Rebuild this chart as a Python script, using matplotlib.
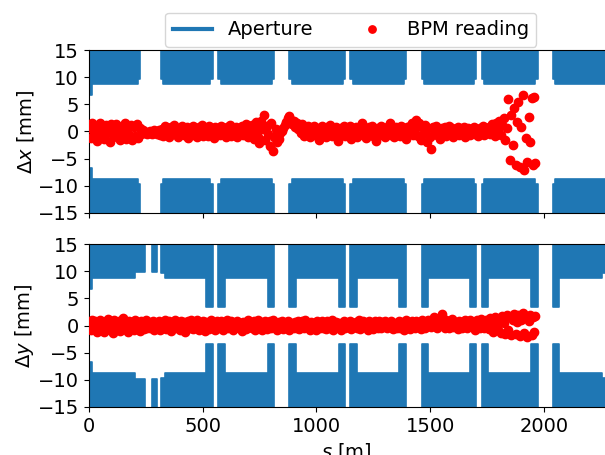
import matplotlib
matplotlib.use("Agg")
import matplotlib.pyplot as plt
from matplotlib.lines import Line2D
import numpy as np

# ---------------- data ----------------
# aperture elements: start [m], end [m], half aperture [mm]
apx_start = [0, 15, 215, 318, 328, 534, 569, 579, 804, 881, 891, 1116,
             1150, 1160, 1383, 1462, 1472, 1691, 1726, 1736, 1962, 2038, 2048]
apx_end = [15, 215, 225, 328, 534, 544, 579, 804, 814, 891, 1116, 1126,
           1160, 1383, 1393, 1472, 1691, 1701, 1736, 1962, 1972, 2048, 2300]
apx_half = [6.8, 8.7, 9.7, 9.7, 8.7, 9.7, 9.7, 8.7, 9.7, 9.7, 8.7, 9.7,
            9.7, 8.7, 9.7, 9.7, 8.7, 9.7, 9.7, 8.7, 9.7, 9.7, 8.7]

apy_start = [0, 15, 204, 276, 318, 335, 515, 569, 598, 789, 881, 910, 1100,
             1150, 1177, 1365, 1462, 1490, 1675, 1726, 1754, 1945, 2038, 2066, 2253]
apy_end = [15, 204, 248, 301, 335, 515, 544, 598, 789, 814, 910, 1100, 1126,
           1177, 1365, 1393, 1490, 1675, 1701, 1754, 1945, 1972, 2066, 2253, 2300]
apy_half = [6.8, 8.7, 9.9, 9.9, 9.7, 8.7, 3.4, 3.4, 8.7, 3.4, 3.4, 8.7, 3.4,
            3.4, 8.7, 3.4, 3.4, 8.7, 3.4, 3.4, 8.7, 3.4, 3.4, 8.7, 9.7]

# BPM positions [m]
s_bpm = [
    3, 9, 16, 22, 29, 35, 42, 48, 55, 61,
    68, 74, 81, 87, 94, 100, 107, 113, 120, 126,
    133, 139, 146, 152, 159, 165, 172, 178, 185, 191,
    198, 204, 211, 217, 224, 230, 237, 243, 250, 256,
    263, 269, 276, 282, 289, 295, 302, 308, 315, 321,
    328, 334, 341, 347, 354, 360, 367, 373, 380, 386,
    393, 399, 406, 412, 419, 425, 432, 438, 445, 451,
    458, 464, 471, 477, 484, 490, 497, 503, 510, 516,
    523, 529, 536, 542, 549, 555, 562, 568, 575, 581,
    588, 594, 601, 607, 614, 620, 627, 633, 640, 646,
    653, 659, 666, 672, 679, 685, 692, 698, 705, 711,
    718, 724, 731, 737, 744, 750, 757, 763, 770, 776,
    783, 789, 796, 802, 809, 815, 822, 828, 835, 841,
    848, 854, 861, 867, 874, 880, 887, 893, 900, 906,
    913, 919, 926, 932, 939, 945, 952, 958, 965, 971,
    978, 984, 991, 997, 1004, 1010, 1017, 1023, 1030, 1036,
    1043, 1049, 1056, 1062, 1069, 1075, 1082, 1088, 1095, 1101,
    1108, 1114, 1121, 1127, 1134, 1140, 1147, 1153, 1160, 1166,
    1173, 1179, 1186, 1192, 1199, 1205, 1212, 1218, 1225, 1231,
    1238, 1244, 1251, 1257, 1264, 1270, 1277, 1283, 1290, 1296,
    1303, 1309, 1316, 1322, 1329, 1335, 1342, 1348, 1355, 1361,
    1368, 1374, 1381, 1387, 1394, 1400, 1407, 1413, 1420, 1426,
    1433, 1439, 1446, 1452, 1459, 1465, 1472, 1478, 1485, 1491,
    1498, 1504, 1511, 1517, 1524, 1530, 1537, 1543, 1550, 1556,
    1563, 1569, 1576, 1582, 1589, 1595, 1602, 1608, 1615, 1621,
    1628, 1634, 1641, 1647, 1654, 1660, 1667, 1673, 1680, 1686,
    1693, 1699, 1706, 1712, 1719, 1725, 1732, 1738, 1745, 1751,
    1758, 1764, 1771, 1777, 1784, 1790, 1797, 1803, 1810, 1816,
    1823, 1829, 1836, 1842, 1849, 1855, 1862, 1868, 1875, 1881,
    1888, 1894, 1901, 1907, 1914, 1920, 1927, 1933, 1940, 1946,
    1951, 1956, 1960]

# horizontal BPM readings [mm]
x_bpm = [
    0.6, -1.2, 1.5, -0.4, 1.0, -1.8, 0.3, 1.6, -0.9, 0.8,
    -1.4, 1.2, -0.3, 0.9, -2.0, 1.4, -0.6, 0.5, 1.3, -1.1,
    0.4, -1.6, 1.1, -0.2, 1.5, -1.3, 0.7, -0.7, 1.2, -1.5,
    0.9, -0.8, 1.4, -1.2, 0.6, -0.5, 0.2, -0.3, -0.1, -0.4,
    -0.2, 0.1, -0.5, -0.3, 0.2, -0.1, -0.4, 0.3, -0.6, 0.5,
    -0.8, 1.0, -0.3, 0.6, -1.1, 0.8, -0.5, 1.2, -0.2, 0.4,
    -1.0, 0.7, -0.4, 1.1, -0.7, 0.3, 0.9, -1.2, 0.5, -0.2,
    1.0, -0.6, 0.4, -1.0, 0.8, -0.3, 1.2, -0.8, 0.2, 0.6,
    -0.9, 1.1, -0.4, 0.5, -1.2, 0.9, -0.1, 0.7, -0.7, 1.0,
    -0.5, 0.3, -1.0, 0.8, -0.3, 1.2, -0.8, 0.4, -0.4, 0.9,
    -1.1, 0.6, -0.2, 1.0, -0.7, 0.4, 1.3, -1.0, 0.2, -0.5,
    1.2, -1.3, 0.5, 1.8, -1.0, -2.2, 2.0, 0.4, 3.0, -1.6,
    1.0, -0.5, -2.6, 1.6, -3.6, -1.0, 0.5, -2.0, -1.3, -0.3,
    0.0, 0.6, 1.2, 1.8, 2.4, 2.8, 2.2, 1.4, 2.0, 0.8,
    1.5, 0.4, 1.0, -0.3, 1.3, -0.8, 0.6, -0.2, 1.0, -1.0,
    0.3, -0.7, 1.1, -0.4, 0.7, -1.5, 0.2, 1.0, -0.6, 0.5,
    -1.1, 0.8, -0.2, 1.2, -0.8, 0.4, -0.5, 0.9, -1.7, 0.3,
    0.7, -0.4, 1.1, -0.9, 0.2, -0.6, 1.0, -1.4, 0.5, -0.2,
    0.9, -1.0, 0.4, -0.3, 1.6, -0.7, 0.6, -1.2, 0.1, 0.8,
    -0.5, 1.0, -0.9, 0.3, -1.8, 0.7, -0.2, 1.1, -0.6, 0.4,
    -1.0, 0.8, -0.3, 1.6, -0.7, 0.2, -1.1, 0.9, -0.4, 0.6,
    -0.9, 1.1, -0.2, 0.5, -1.3, 0.8, -0.5, 1.0, 1.6, -0.6,
    0.4, 2.2, -0.8, 1.5, -1.5, 0.9, -0.3, 1.2, -2.0, 0.6,
    -1.0, -3.2, 0.9, -0.4, 1.1, -0.7, 0.5, -1.3, 0.7, -0.2,
    0.8, -0.9, 0.3, 1.0, -0.5, 0.6, -1.1, 0.4, -0.2, 0.9,
    -0.7, 0.5, -0.3, 0.9, -1.0, 0.2, 0.7, -0.6, 0.4, -0.3,
    0.8, -0.5, 0.3, -0.9, 0.6, -0.2, 1.0, -0.6, 0.4, 0.0,
    0.9, -0.4, 1.3, 0.2, -0.8, 1.6, 0.4, 2.0, -0.6, 1.2,
    2.4, -1.5, 0.6, 6.0, -5.2, 3.0, -2.4, 4.4, -6.2, 1.8,
    5.5, -6.5, 0.8, 6.7, -7.0, -1.2, -5.6, 2.6, -2.0, 6.1,
    -6.1, 6.4, -5.8]

# vertical BPM readings [mm]
y_bpm = [
    0.5, -0.9, 1.1, -0.4, 0.8, -1.2, 0.3, 1.0, -0.6, 0.4,
    -1.1, 0.9, -0.3, 1.2, -0.8, 0.5, -1.3, 1.0, 0.1, -0.5,
    0.8, -1.0, 0.4, 1.3, -0.6, 0.3, -1.1, 0.9, -0.4, 0.6,
    -0.8, 1.1, -0.3, 0.5, -1.0, 0.8, 0.1, -0.6, 1.0, -0.4,
    0.6, -0.5, 0.3, 0.9, -0.8, 0.4, -0.3, 0.8, -0.9, 0.5,
    -0.4, 1.0, -0.6, 0.3, 0.8, -1.0, 0.5, -0.1, 1.1, -0.5,
    0.4, -0.8, 0.9, -0.3, 0.6, -1.1, 0.3, 0.8, -0.5, 1.0,
    -0.6, 0.5, -0.1, 1.1, -0.8, 0.4, -0.4, 0.9, -1.0, 0.6,
    0.3, -0.6, 1.0, -0.3, 0.5, -0.9, 0.8, 0.0, -0.5, 0.9,
    -0.8, 0.6, -0.1, 1.0, -0.5, 0.3, 0.8, -0.9, 0.4, -0.3,
    0.9, -0.4, 0.5, -1.0, 0.6, 0.1, -0.6, 1.0, -0.3, 0.4,
    -0.5, 0.8, -0.9, 0.3, 1.1, -0.4, 0.6, -0.8, 0.4, 0.9,
    -0.6, 0.3, 0.8, -0.5, 1.0, -0.1, 0.5, -0.9, 0.6, -0.3,
    0.8, -0.6, 0.4, -0.3, 0.9, -0.8, 0.5, 0.1, -0.5, 0.6,
    -0.4, 0.9, -0.6, 0.3, 0.8, -0.5, 1.0, -0.3, 0.5, -0.8,
    0.6, -0.3, 0.4, -0.9, 0.8, 0.1, -0.5, 0.9, -0.4, 0.3,
    -0.6, 0.8, 0.0, -0.4, 1.0, -0.8, 0.4, 0.6, -0.3, 0.5,
    -0.8, 0.3, 0.9, -0.5, 0.4, -0.1, 0.8, -0.6, 0.5, 0.1,
    0.6, -0.4, 1.0, -0.6, 0.3, 0.8, -0.3, 0.5, -0.8, 0.9,
    -0.3, 0.5, -0.6, 0.9, 0.1, -0.5, 0.8, -0.4, 0.6, 0.0,
    0.8, -0.5, 0.4, -0.1, 0.9, -0.6, 0.5, 0.3, -0.4, 0.8,
    -0.5, 0.6, 0.1, -0.8, 1.0, -0.3, 0.5, -0.6, 0.9, 0.3,
    -0.4, 0.8, -0.1, 0.5, -0.6, 1.0, 0.3, -0.5, 0.8, 1.1,
    0.4, -0.3, 0.9, 1.5, 0.5, -0.4, 1.1, 0.6, 2.1, 0.3,
    -0.4, 1.0, 0.4, -0.5, 0.8, 1.2, -0.3, 0.6, 0.1, -0.6,
    0.9, 0.3, -0.5, 0.8, 1.1, -0.4, 0.5, 1.0, -0.1, 0.6,
    0.4, -0.8, 1.0, 0.3, -0.5, 1.2, 0.6, -0.4, 1.1, 0.1,
    -0.6, 1.3, 0.5, -1.1, 1.6, 0.3, -0.8, 1.2, -1.3, 1.7,
    0.4, -1.6, 1.9, -0.9, 1.5, -1.8, 1.0, 2.2, -1.5, 0.6,
    2.0, -1.9, 1.1, 2.3, -1.3, 1.7, -2.1, 0.8, 1.9, -1.7,
    1.5, -1.1, 1.8]

y_ticks = [-15, -10, -5, 0, 5, 10, 15]
x_ticks = [0, 500, 1000, 1500, 2000]
YLIM = 15
XMAX = 2268

# ---------------- plot ----------------
plt.rcParams['font.family'] = ['DejaVu Sans']
plt.rcParams['font.size'] = 14

fig = plt.figure(figsize=(6.05, 4.55), dpi=100)
ax1 = fig.add_axes([0.1466, 0.532, 0.8534, 0.358])
ax2 = fig.add_axes([0.1466, 0.1055, 0.8534, 0.358], sharex=ax1)

blue = '#1f77b4'
MS = 6.0


def draw_aperture(ax, start, end, half):
    start = np.asarray(start, float)
    end = np.asarray(end, float)
    half = np.asarray(half, float)
    width = end - start
    big = 3 * YLIM
    kw = dict(align='edge', color=blue, edgecolor=blue, linewidth=1.2,
              joinstyle='round', zorder=1)
    ax.bar(start, big - half, width=width, bottom=half, **kw)
    ax.bar(start, big - half, width=width, bottom=-big, **kw)


draw_aperture(ax1, apx_start, apx_end, apx_half)
draw_aperture(ax2, apy_start, apy_end, apy_half)

ax1.plot(s_bpm, x_bpm, 'o', color='red', ms=MS, zorder=3)
ax2.plot(s_bpm, y_bpm, 'o', color='red', ms=MS, zorder=3)

for ax in (ax1, ax2):
    ax.set_ylim(-YLIM, YLIM)
    ax.set_yticks(y_ticks)
    ax.set_xlim(0, XMAX)
    ax.spines['right'].set_visible(False)

ax2.set_xticks(x_ticks)
plt.setp(ax1.get_xticklabels(), visible=False)

ax1.set_ylabel(r'$\Delta x$ [mm]', labelpad=1.5)
ax2.set_ylabel(r'$\Delta y$ [mm]', labelpad=1.5)
ax2.set_xlabel(r'$s$ [m]')

handles = [Line2D([], [], color=blue, lw=3),
           Line2D([], [], marker='o', ls='none', color='red', ms=5.3)]
ax1.legend(handles, ['Aperture', 'BPM reading'], ncol=2, loc='lower center',
           bbox_to_anchor=(0.508, 1.0), borderaxespad=0.15)

fig.savefig('out.png', dpi=100)
